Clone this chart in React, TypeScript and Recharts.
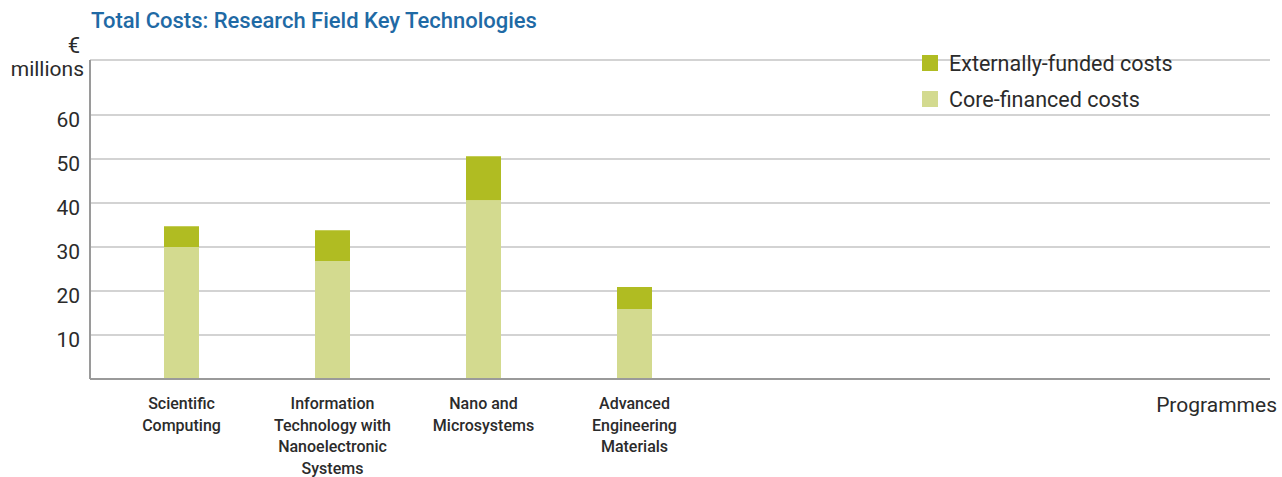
import React from 'react';
import {
  BarChart,
  Bar,
  XAxis,
  YAxis,
  CartesianGrid,
  Legend,
} from 'recharts';

// programmes (the blank ones only reserve space on the right, like the original)
const programmes = [
  'Scientific\nComputing',
  'Information\nTechnology with\nNanoelectronic\nSystems',
  'Nano and\nMicrosystems',
  'Advanced\nEngineering\nMaterials',
  '',
  ' ',
  '  ',
];
const coreFinanced = [30, 26.8, 40.6, 15.9];
const externallyFunded = [4.7, 7.0, 10.0, 5.0];
const yTicks = [10, 20, 30, 40, 50, 60];

const CORE = '#d3da8f';
const EXTERNAL = '#b0bc22';
const FONT = 'Roboto, "Liberation Sans", Arial, sans-serif';

const data = programmes.map((name, i) => ({
  name,
  core: coreFinanced[i],
  external: externallyFunded[i],
}));

const CategoryTick = ({ x, y, payload }: any) => {
  const lines = String(payload.value).trim() ? String(payload.value).split('\n') : [];
  return (
    <text x={x} y={y + 22} textAnchor="middle" fill="#2b2b2b" fontSize={16} fontWeight={500} fontFamily={FONT}>
      {lines.map((l, i) => (
        <tspan key={i} x={x} dy={i === 0 ? 0 : 21.5}>{l}</tspan>
      ))}
    </text>
  );
};

const ValueTick = ({ x, y, payload }: any) => (
  <text x={x - 2} y={y + 12} textAnchor="end" fill="#2b2b2b" fontSize={21} fontFamily={FONT}>
    {payload.value}
  </text>
);

const LegendBox = () => {
  const items = [
    { label: 'Externally-funded costs', color: EXTERNAL },
    { label: 'Core-financed costs', color: CORE },
  ];
  return (
    <div style={{ fontFamily: FONT, fontSize: 21.5, color: '#2b2b2b' }}>
      {items.map((it) => (
        <div key={it.label} style={{ display: 'flex', alignItems: 'center', height: 36 }}>
          <span style={{ width: 16, height: 16, background: it.color, marginRight: 11 }} />
          <span>{it.label}</span>
        </div>
      ))}
    </div>
  );
};

export default function App() {
  return (
    <div style={{ position: 'absolute', left: 0, top: 0, width: 1282, height: 477, background: '#fff' }}>
      <BarChart
        width={1282}
        height={477}
        data={data}
        margin={{ top: 60, right: 12, bottom: 0, left: 10 }}
        barSize={35}
      >
        <CartesianGrid vertical={false} stroke="#c4c4c4" strokeWidth={1.5} />
        <XAxis
          dataKey="name"
          interval={0}
          tick={<CategoryTick />}
          tickLine={false}
          axisLine={{ stroke: '#9a9a9a', strokeWidth: 2 }}
          padding={{ left: 16, right: 107 }}
          height={98}
        />
        <YAxis
          domain={[0, 72.5]}
          ticks={yTicks}
          allowDataOverflow
          tick={<ValueTick />}
          tickLine={false}
          axisLine={{ stroke: '#9a9a9a', strokeWidth: 2 }}
          width={80}
        />
        <Legend
          layout="horizontal"
          verticalAlign="middle"
          align="center"
          content={<LegendBox />}
          wrapperStyle={{ position: 'absolute', top: 45, left: 922, width: 320 }}
        />
        <Bar dataKey="core" name="Core-financed costs" stackId="a" fill={CORE} isAnimationActive={false} />
        <Bar dataKey="external" name="Externally-funded costs" stackId="a" fill={EXTERNAL} isAnimationActive={false} />
        <text x={91} y={28} fill="#1f6aa5" fontSize={22} fontWeight={500} fontFamily={FONT}>
          Total Costs: Research Field Key Technologies
        </text>
        <text x={74} y={53} textAnchor="middle" fill="#2b2b2b" fontSize={22} fontFamily={FONT}>€</text>
        <text x={84} y={76} textAnchor="end" fill="#2b2b2b" fontSize={21} fontFamily={FONT}>millions</text>
        <text x={1277} y={412} textAnchor="end" fill="#2b2b2b" fontSize={21} fontFamily={FONT}>Programmes</text>
      </BarChart>
    </div>
  );
}
